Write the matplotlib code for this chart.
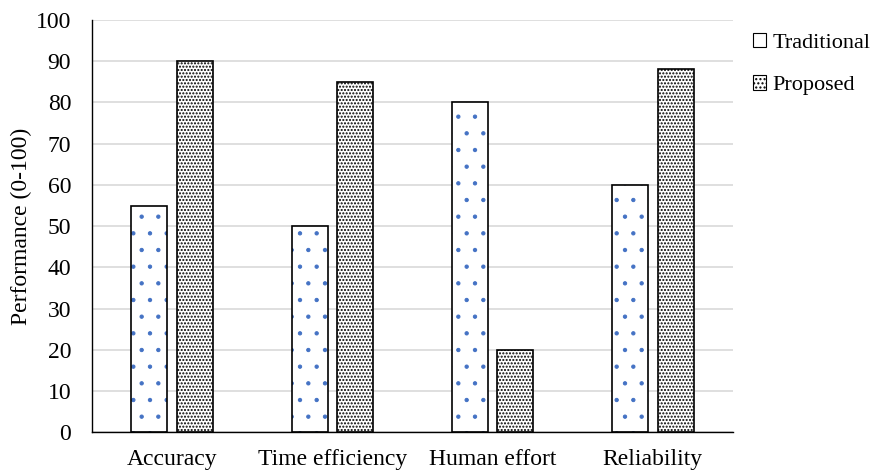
import matplotlib
matplotlib.use("Agg")
import matplotlib.pyplot as plt
import numpy as np
from matplotlib.patches import Patch

categories = ["Accuracy", "Time efficiency", "Human effort", "Reliability"]
traditional = [55, 50, 80, 60]
proposed = [90, 85, 20, 88]
yticks = list(range(0, 101, 10))

plt.rcParams['font.family'] = ['Liberation Serif', 'DejaVu Serif']

fig = plt.figure(figsize=(8.8, 4.75), dpi=100)
ax = fig.add_axes([0.1045, 0.0895, 0.7284, 0.8684])

x = np.arange(len(categories))
w = 0.225
off = 0.142
blue = '#4472C4'

with plt.rc_context({'hatch.linewidth': 0.7}):
    ax.bar(x - off, traditional, w, color='white', edgecolor=blue, hatch='.', linewidth=0, zorder=2)
ax.bar(x - off, traditional, w, fill=False, edgecolor='black', linewidth=1.2, zorder=3)
with plt.rc_context({'hatch.linewidth': 1.0}):
    ax.bar(x + off, proposed, w, color='white', edgecolor='black', hatch='.....', linewidth=0, zorder=2)
ax.bar(x + off, proposed, w, fill=False, edgecolor='black', linewidth=1.2, zorder=3)

ax.set_xlim(-0.5, len(categories) - 0.5)
ax.set_ylim(0, 100)
ax.set_yticks(yticks)
ax.set_xticks(x)
ax.set_xticklabels(categories)
ax.tick_params(axis='both', labelsize=17, length=0)
ax.tick_params(axis='x', pad=12)
ax.tick_params(axis='y', pad=15)
ax.yaxis.grid(True, color='#d9d9d9', linewidth=1.2, zorder=0)
ax.set_axisbelow(True)
for s in ['top', 'right']:
    ax.spines[s].set_visible(False)
ax.spines['left'].set_color('black')
ax.spines['bottom'].set_color('black')
ax.spines['left'].set_linewidth(1.0)
ax.spines['bottom'].set_linewidth(1.0)
ax.set_ylabel("Performance (0-100)", fontsize=17, labelpad=3)

with plt.rc_context({'hatch.linewidth': 0.5}):
    h1 = Patch(facecolor='white', edgecolor='black', linewidth=0.8)
    h2 = Patch(facecolor='white', edgecolor='black', hatch='....', linewidth=0.8)
leg = ax.legend([h1, h2], ["Traditional", "Proposed"], loc='upper left',
                bbox_to_anchor=(1.01, 1.0), frameon=False, fontsize=16,
                handlelength=0.6, handleheight=0.6, handletextpad=0.3, labelspacing=1.0,
                borderaxespad=0.2)

fig.savefig("out.png", dpi=100)
